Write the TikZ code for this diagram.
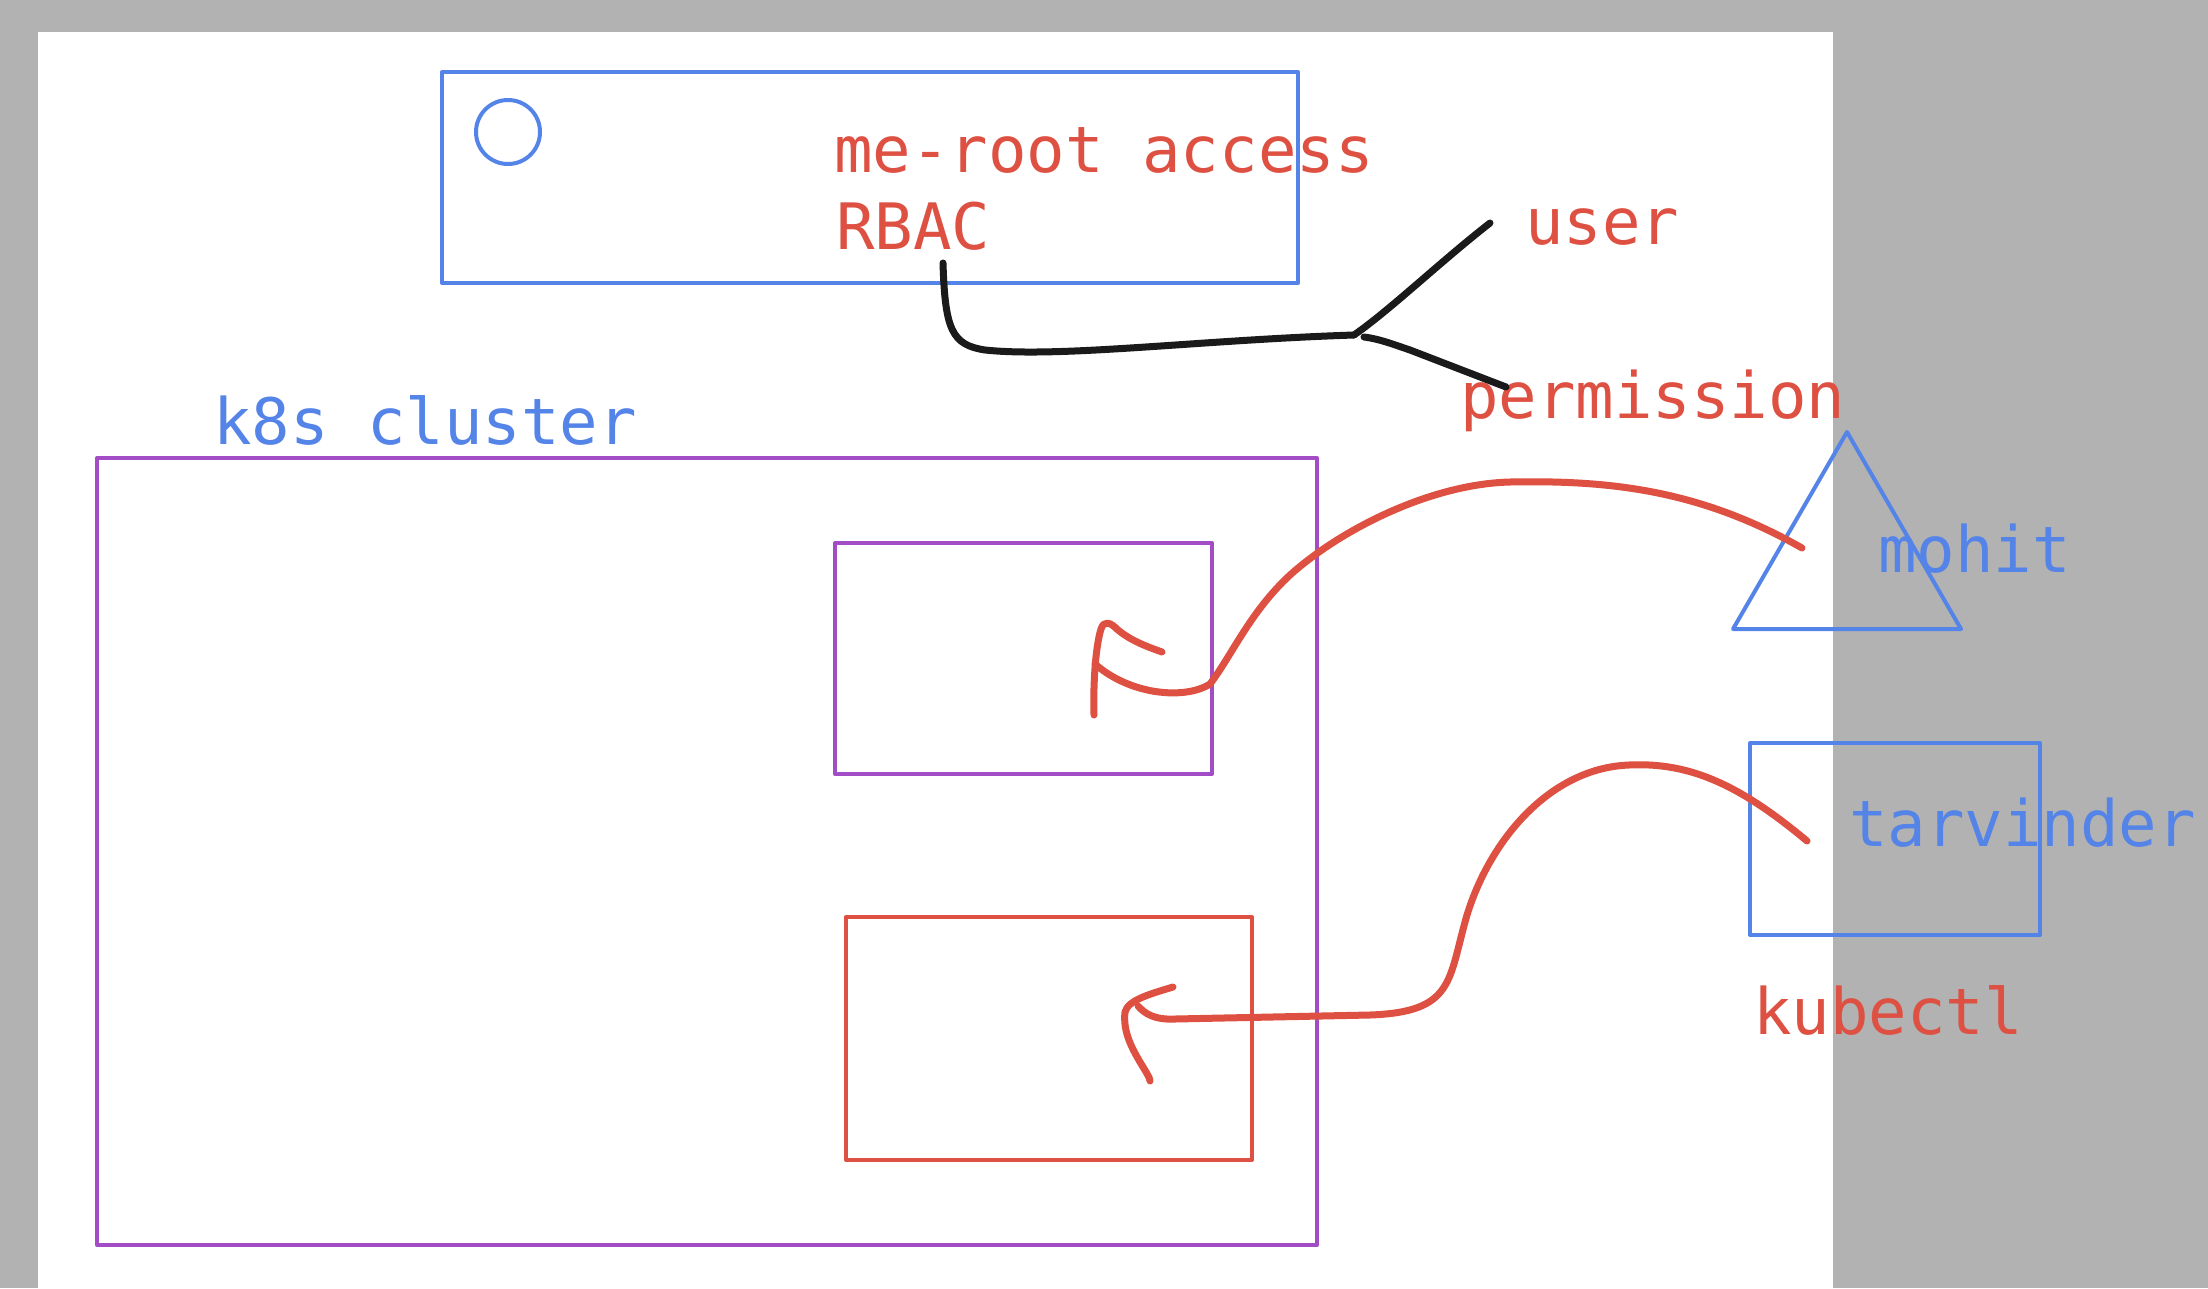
\documentclass[tikz,border=0pt]{standalone}
\usepackage{fontspec}
\setmonofont{DejaVu Sans Mono}
\definecolor{bgray}{HTML}{B2B2B2}
\definecolor{sblue}{HTML}{5584E8}
\definecolor{sred}{HTML}{DE5042}
\definecolor{spurple}{HTML}{A24DC6}
\definecolor{sblack}{HTML}{1A1A1A}
\tikzset{
  lbl/.style={anchor=base west, inner sep=0pt, font=\fontsize{64}{70}\selectfont\ttfamily},
  box/.style={line width=4pt, line join=round},
  stroke/.style={line width=7pt, line cap=round, line join=round},
}
\begin{document}
\begin{tikzpicture}[x=1pt,y=-1pt]
\fill[bgray] (0,0) rectangle (2208,1288);
\useasboundingbox (0,0) rectangle (2208,1288);
\fill[white] (38,32) rectangle (1833,1288);
% top blue box
\draw[box, sblue] (442,72) rectangle (1298,283);
\draw[box, sblue] (508,132) circle (32);
\node[lbl, sred] (meroot) at (834,172) {me-root access};
\node[lbl, sred] (rbac) at (836,249) {RBAC};
\node[lbl, sred] (user) at (1525,244) {user};
\node[lbl, sred] (perm) at (1460,418) {permission};
% black connector
\coordinate (b0) at (943,263);
\coordinate (bj) at (1354,335);
\coordinate (bu) at (1490,223);
\coordinate (bd) at (1506,387);
\draw[stroke, sblack] (b0) .. controls (945,330) and (952,345) .. (985,350)
  .. controls (1060,358) and (1200,340) .. (bj);
\draw[stroke, sblack] (bj) .. controls (1390,310) and (1440,262) .. (bu);
\draw[stroke, sblack] (1364,337) .. controls (1380,339) and (1395,345) .. (1410,350) -- (bd);
% k8s cluster
\node[lbl, sblue] (k8s) at (213,444) {k8s cluster};
\draw[box, spurple] (97,458) rectangle (1317,1245);
\draw[box, spurple] (835,543) rectangle (1212,774);
\draw[box, sred] (846,917) rectangle (1252,1160);
% mohit
\draw[box, sblue] (1847,432) -- (1961,629) -- (1733,629) -- cycle;
\node[lbl, sblue] (mohit) at (1878,572) {mohit};
% tarvinder
\draw[box, sblue] (1750,743) rectangle (2040,935);
\node[lbl, sblue] (tarv) at (1849,846) {tarvinder};
\node[lbl, sred] (kubectl) at (1753,1034) {kubectl};
% red curve 1
\coordinate (r1s) at (1802,548);
\coordinate (r1e) at (1095,664);
\draw[stroke, sred] (r1s) .. controls (1700,490) and (1610,480) .. (1510,482)
  .. controls (1430,484) and (1340,530) .. (1290,575)
  .. controls (1250,612) and (1232,655) .. (1210,684)
  .. controls (1185,700) and (1130,695) .. (r1e);
\draw[stroke, sred] (1094,715) .. controls (1093,680) and (1096,645) .. (1101,629)
  .. controls (1104,620) and (1110,622) .. (1118,630)
  .. controls (1130,640) and (1145,646) .. (1162,652);
% red curve 2
\coordinate (r2s) at (1807,841);
\coordinate (r2e) at (1138,1006);
\draw[stroke, sred] (r2s) .. controls (1740,785) and (1690,762) .. (1629,765)
  .. controls (1550,768) and (1490,840) .. (1467,915)
  .. controls (1448,980) and (1455,1012) .. (1370,1015)
  -- (1175,1019) .. controls (1155,1020) and (1145,1014) .. (r2e);
\draw[stroke, sred] (1173,987) .. controls (1150,994) and (1128,1000) .. (1125,1012)
  .. controls (1123,1030) and (1130,1045) .. (1140,1062) .. controls (1146,1072) and (1150,1078) .. (1150,1081);
\end{tikzpicture}
\end{document}
